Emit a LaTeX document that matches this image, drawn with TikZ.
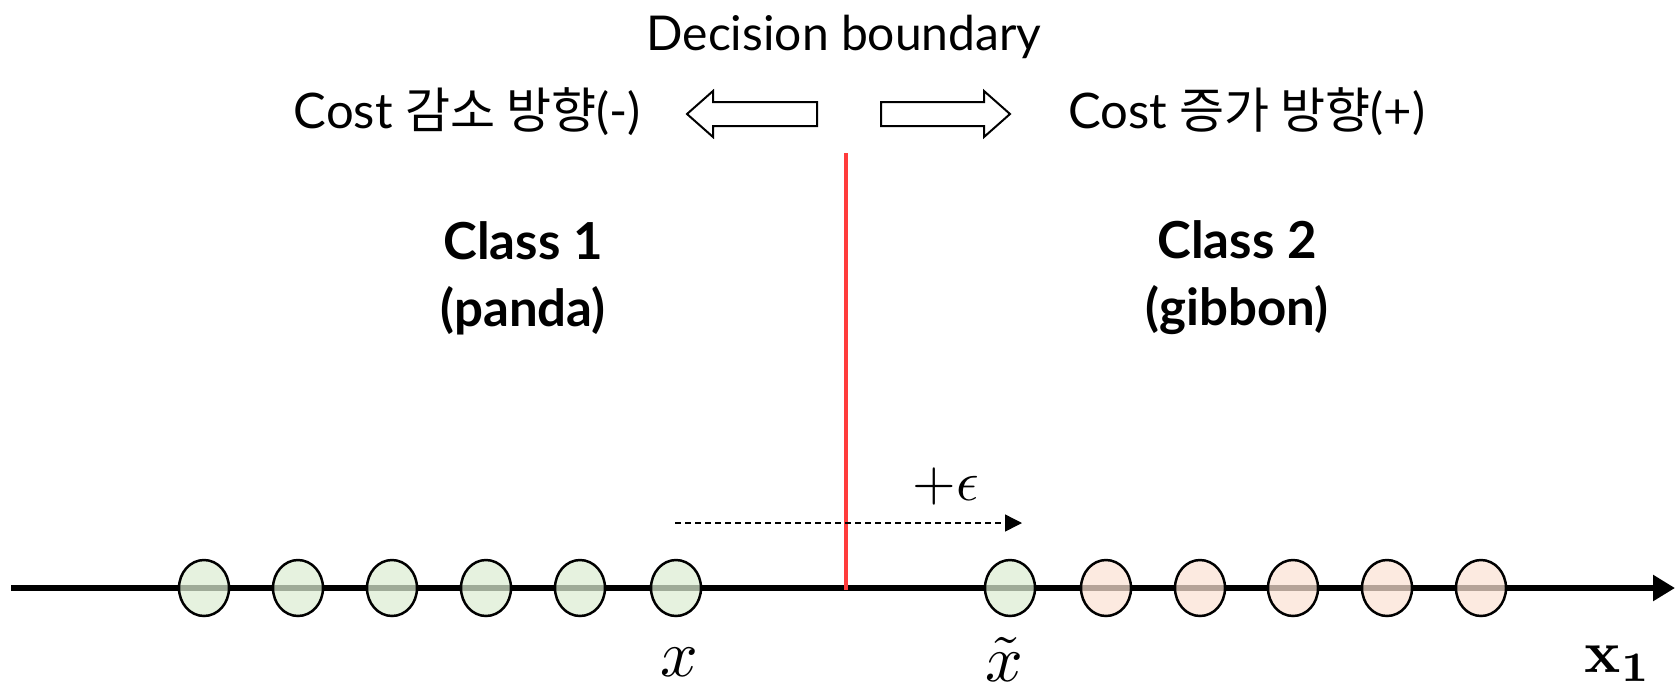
\documentclass[tikz,border=0pt]{standalone}
\usepackage[no-math]{fontspec}
\setmainfont{Lato}
\newfontfamily\kor{Noto Sans CJK KR}
\usetikzlibrary{arrows.meta,shapes.geometric}
\definecolor{dotgreen}{HTML}{DDEDD3}
\definecolor{dotpeach}{HTML}{FBE2D4}
\definecolor{bred}{HTML}{FF3B3B}
\begin{document}
\begin{tikzpicture}[x=1pt,y=-1pt,
  dot/.style={ellipse, draw=black, line width=2.5pt, minimum width=50pt, minimum height=56pt, inner sep=0pt, fill opacity=0.72},
  gdot/.style={dot, fill=dotgreen},
  pdot/.style={dot, fill=dotpeach},
  hollow/.style={draw=black, line width=2pt, fill=white, line join=miter},
  txt/.style={font=\fontsize{49}{55}\selectfont, inner sep=0pt},
  cls/.style={font=\fontsize{51}{67}\selectfont\bfseries, align=center, inner sep=0pt},
  mth/.style={inner sep=0pt}]
\useasboundingbox (0,0) rectangle (1675,691);
% axis
\coordinate (a0) at (11,588);
\coordinate (a1) at (1675,588);
\draw[line width=6.5pt, -{Triangle[length=22pt,width=25pt]}] (a0) -- (a1);
% decision boundary
\coordinate (btop) at (846,153);
\coordinate (bbot) at (846,590);
\draw[bred, line width=4pt] (btop) -- (bbot);
% dashed arrow
\coordinate (e0) at (675,523);
\coordinate (e1) at (1022,523);
\draw[line width=1.4pt, dash pattern=on 6pt off 4pt, -{Triangle[length=17pt,width=17pt]}] (e0) -- (e1);
% points
\node[gdot] (g1) at (204,588) {};
\node[gdot] (g2) at (298,588) {};
\node[gdot] (g3) at (392,588) {};
\node[gdot] (g4) at (486,588) {};
\node[gdot] (g5) at (580,588) {};
\node[gdot] (g6) at (676,588) {};
\node[gdot] (gt) at (1010,588) {};
\node[pdot] (o1) at (1106,588) {};
\node[pdot] (o2) at (1200,588) {};
\node[pdot] (o3) at (1293,588) {};
\node[pdot] (o4) at (1387,588) {};
\node[pdot] (o5) at (1481,588) {};
% hollow arrows
\draw[hollow] (687,114) -- (713,91) -- (713,102) -- (817,102) -- (817,126) -- (713,126) -- (713,137) -- cycle;
\draw[hollow] (1010,114) -- (984,91) -- (984,102) -- (881,102) -- (881,126) -- (984,126) -- (984,137) -- cycle;
% texts
\node[txt, font=\fontsize{48}{54}\selectfont] (title) at (844,37) {Decision boundary};
\node[txt, anchor=east] (costL) at (641,112) {Cost {\kor 감소 방향}(-)};
\node[txt, anchor=west] (costR) at (1068,112) {Cost {\kor 증가 방향}(+)};
\node[cls] (c1) at (523,278) {Class 1\\(panda)};
\node[cls] (c2) at (1237,278) {Class 2\\(gibbon)};
\node[mth] (eps) at (946,486) {\scalebox{5.6}{$+\epsilon$}};
\node[mth] (xl) at (679,662) {\scalebox{6.6}{$x$}};
\node[mth] (xt) at (1004,659) {\scalebox{6.6}{$\tilde{x}$}};
\node[mth] (x1) at (1618,664) {\scalebox{6}{$\mathbf{x_1}$}};
\end{tikzpicture}
\end{document}
